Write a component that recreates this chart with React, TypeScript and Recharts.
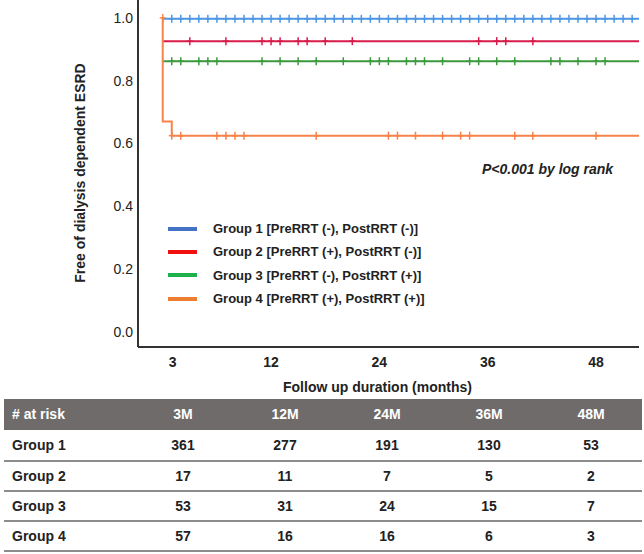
import React from 'react';
import { ComposedChart, Line, Scatter, XAxis, YAxis, Label, Legend } from 'recharts';

// ---- data ----
const END = 52.76;
const group1Curve = [{ t: 0, s: 0.997 }, { t: END, s: 0.997 }];
const group2Curve = [{ t: 0, s: 0.926 }, { t: END, s: 0.926 }];
const group3Curve = [{ t: 0, s: 0.862 }, { t: END, s: 0.862 }];
const group4Curve = [{ t: 0, s: 1.0 }, { t: 0, s: 0.67 }, { t: 1, s: 0.625 }, { t: END, s: 0.625 }];

const group1Censor = [1, 2, 3, 4, 5, 6, 7, 8, 9, 10, 11, 12, 13, 14, 15, 16, 17, 18, 19, 20, 21, 22, 23, 24, 25, 26, 27, 28, 29, 30, 31, 32, 33, 34, 35, 36, 37, 38, 39, 40, 41, 42, 43, 44, 45, 46, 47, 48, 49, 50, 51, 52];
const group2Censor = [3, 7, 11, 12, 13, 15, 16, 18, 21, 35, 37, 38, 41];
const group3Censor = [1, 2, 4, 5, 6, 11, 13, 15, 17, 20, 23, 24, 25, 27, 28, 29, 31, 34, 35, 37, 39, 43, 44, 46, 48, 49];
const group4Censor = [0, 1, 2, 6, 7, 8, 9, 17, 25, 26, 28, 31, 33, 34, 39, 41, 48];

const xTickValues = [1.1, 12, 24, 36, 48];
const xTickLabels = ['3', '12', '24', '36', '48'];
const yTickValues = [0, 0.2, 0.4, 0.6, 0.8, 1.0];

const legendLabels = [
  'Group 1 [PreRRT (-), PostRRT (-)]',
  'Group 2 [PreRRT (+), PostRRT (-)]',
  'Group 3 [PreRRT (-), PostRRT (+)]',
  'Group 4 [PreRRT (+), PostRRT (+)]',
];

const riskHeader = ['3M', '12M', '24M', '36M', '48M'];
const groupNames = ['Group 1', 'Group 2', 'Group 3', 'Group 4'];
const atRisk1 = [361, 277, 191, 130, 53];
const atRisk2 = [17, 11, 7, 5, 2];
const atRisk3 = [53, 31, 24, 15, 7];
const atRisk4 = [57, 16, 16, 6, 3];

// ---- styling ----
const lineColors = ['#4f97e3', '#d81b4a', '#3c9a3c', '#f7834a'];
const legendColors = ['#4472c4', '#f01010', '#1eb04b', '#ed7d31'];
const FONT = 'Arial, "Liberation Sans", sans-serif';
const INK = '#222';

type Pt = { t: number; s: number };
const survAt = (curve: Pt[], x: number) => {
  const exact = curve.find((p) => p.t === x);
  if (exact) return exact.s;
  let s = curve[0].s;
  for (const p of curve) if (p.t < x) s = p.s;
  return s;
};

const curves = [group1Curve, group2Curve, group3Curve, group4Curve];
const censors = [group1Censor, group2Censor, group3Censor, group4Censor];
const atRisk = [atRisk1, atRisk2, atRisk3, atRisk4];

const plusShape = (color: string) => (props: any) => {
  const { cx, cy } = props;
  return (
    <g>
      <line x1={cx} x2={cx} y1={cy - 4} y2={cy + 4} stroke={color} strokeWidth={1.5} />
      <line x1={cx - 3} x2={cx + 3} y1={cy} y2={cy} stroke={color} strokeWidth={1.5} />
    </g>
  );
};

const renderLegend = () => (
  <div style={{ fontFamily: FONT }}>
    {legendLabels.map((lab, i) => (
      <div key={lab} style={{ display: 'flex', alignItems: 'center', height: 23.3 }}>
        <div style={{ width: 29, height: 4, background: legendColors[i], marginRight: 16 }} />
        <span style={{ fontSize: 13, fontWeight: 'bold', color: INK, whiteSpace: 'nowrap' }}>{lab}</span>
      </div>
    ))}
  </div>
);

export default function App() {
  const colLeft = 128;
  const colW = 102;
  const rowTops = [430, 462, 492, 522];
  const rowHeights = [32, 30, 30, 30];
  return (
    <div style={{ position: 'absolute', left: 0, top: 0, width: 644, height: 554, background: '#fff', fontFamily: FONT }}>
      <ComposedChart width={644} height={398} margin={{ top: 0, right: 5, bottom: 0, left: 0 }}>
        <XAxis
          dataKey="t"
          type="number"
          domain={[-2.74, END]}
          allowDataOverflow
          ticks={xTickValues}
          interval={0}
          tickFormatter={(v: number) => xTickLabels[xTickValues.indexOf(v)]}
          tickLine={false}
          tickSize={0}
          tickMargin={10}
          height={51}
          axisLine={{ stroke: '#333', strokeWidth: 2 }}
          tick={{ fill: INK, fontSize: 14, fontWeight: 'bold', fontFamily: FONT }}
        >
          <Label
            value="Follow up duration (months)"
            position="insideBottom"
            offset={6}
            dx={-11}
            style={{ fill: INK, fontSize: 14, fontWeight: 'bold', fontFamily: FONT }}
          />
        </XAxis>
        <YAxis
          type="number"
          domain={[-0.048, 1.057]}
          allowDataOverflow
          ticks={yTickValues}
          interval={0}
          tickFormatter={(v: number) => v.toFixed(1)}
          tickLine={false}
          tickSize={0}
          tickMargin={5}
          width={138}
          axisLine={{ stroke: '#333', strokeWidth: 2 }}
          tick={{ fill: INK, fontSize: 14, fontFamily: FONT }}
        >
          <Label
            content={() => (
              <text
                x={80}
                y={173}
                transform="rotate(-90 80 173)"
                textAnchor="middle"
                dominantBaseline="central"
                style={{ fill: INK, fontSize: 14, fontWeight: 'bold', fontFamily: FONT }}
              >
                Free of dialysis dependent ESRD
              </text>
            )}
          />
        </YAxis>
        {curves.map((c, i) => (
          <Line
            key={'l' + i}
            data={c}
            dataKey="s"
            type="stepAfter"
            stroke={lineColors[i]}
            strokeWidth={2}
            dot={false}
            activeDot={false}
            isAnimationActive={false}
          />
        ))}
        {censors.map((cs, i) => (
          <Scatter
            key={'c' + i}
            data={cs.map((t) => ({ t, s: survAt(curves[i], t) }))}
            dataKey="s"
            shape={plusShape(lineColors[i])}
            isAnimationActive={false}
          />
        ))}
        <Legend
          content={renderLegend}
          verticalAlign="middle"
          layout="horizontal"
          wrapperStyle={{ position: 'absolute', left: 168, top: 217, width: 300 }}
        />
      </ComposedChart>

      <div
        style={{
          position: 'absolute',
          left: 482,
          top: 161,
          fontSize: 14,
          fontWeight: 'bold',
          fontStyle: 'italic',
          color: INK,
          lineHeight: '16px',
          whiteSpace: 'nowrap',
        }}
      >
        P&lt;0.001 by log rank
      </div>

      {/* at-risk table */}
      <div
        style={{
          position: 'absolute',
          left: 4,
          top: 399,
          width: colLeft + colW * 5,
          height: 31,
          background: '#6f6b6b',
          color: '#fff',
          fontSize: 14,
          fontWeight: 'bold',
        }}
      >
        <div style={{ position: 'absolute', left: 8, top: 0, lineHeight: '31px' }}># at risk</div>
        {riskHeader.map((h, j) => (
          <div
            key={h}
            style={{ position: 'absolute', left: colLeft + colW * j, width: colW, top: 0, lineHeight: '31px', textAlign: 'center' }}
          >
            {h}
          </div>
        ))}
      </div>
      {groupNames.map((g, i) => (
        <div
          key={g}
          style={{
            position: 'absolute',
            left: 4,
            top: rowTops[i],
            width: colLeft + colW * 5,
            height: rowHeights[i],
            borderBottom: '2px solid #8c8c8c',
            boxSizing: 'border-box',
            color: INK,
            fontSize: 14,
            fontWeight: 'bold',
          }}
        >
          <div style={{ position: 'absolute', left: 8, top: 0, lineHeight: rowHeights[i] - 2 + 'px' }}>{g}</div>
          {atRisk[i].map((v, j) => (
            <div
              key={j}
              style={{
                position: 'absolute',
                left: colLeft + colW * j,
                width: colW,
                top: 0,
                lineHeight: rowHeights[i] - 2 + 'px',
                textAlign: 'center',
              }}
            >
              {v}
            </div>
          ))}
        </div>
      ))}
    </div>
  );
}
